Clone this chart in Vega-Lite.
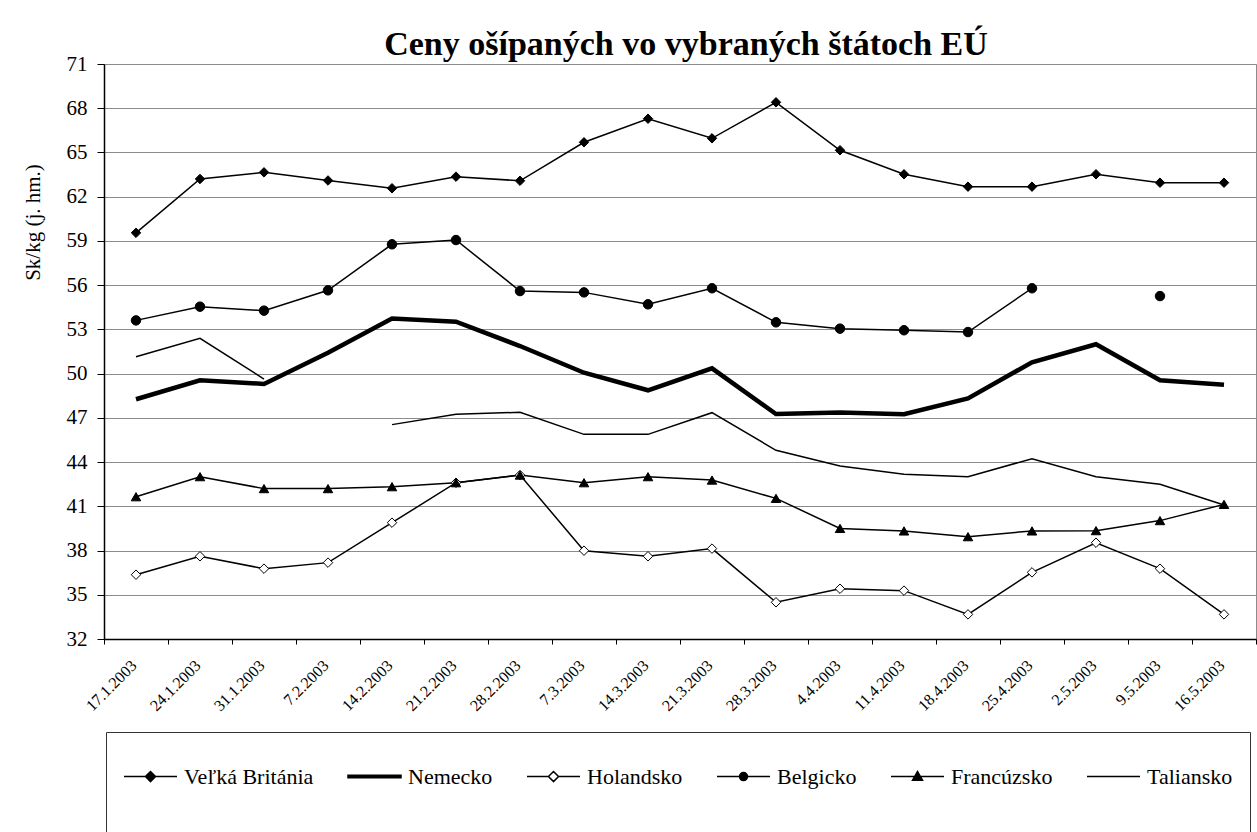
{
  "$schema": "https://vega.github.io/schema/vega-lite/v6.json",
  "width": 1152,
  "height": 575,
  "autosize": {"type": "none"},
  "padding": {"left": 104, "top": 64, "right": 1, "bottom": 193},
  "background": "white",
  "title": {"text": "Ceny ošípaných vo vybraných štátoch  EÚ", "font": "Liberation Serif", "fontSize": 34, "fontWeight": "bold", "color": "black", "anchor": "middle", "dx": 6, "dy": 44, "baseline": "alphabetic", "offset": 8},
  "config": {
    "font": "Liberation Serif",
    "view": {"stroke": "#8c8c8c", "strokeWidth": 1},
    "legend": {"labelFont": "Liberation Serif", "labelFontSize": 22, "labelColor": "black", "labelOffset": 6, "columnPadding": 31,
      "symbolSize": 2809, "symbolStrokeWidth": 1.5, "symbolOpacity": 1, "padding": 17, "strokeColor": "#333333", "fillColor": "white"}
  },
  "data": {"values": [
    {"date": "17.1.2003", "country": "Veľká Británia", "price": 59.55},
    {"date": "24.1.2003", "country": "Veľká Británia", "price": 63.2},
    {"date": "31.1.2003", "country": "Veľká Británia", "price": 63.65},
    {"date": "7.2.2003", "country": "Veľká Británia", "price": 63.1},
    {"date": "14.2.2003", "country": "Veľká Británia", "price": 62.57},
    {"date": "21.2.2003", "country": "Veľká Británia", "price": 63.36},
    {"date": "28.2.2003", "country": "Veľká Británia", "price": 63.08},
    {"date": "7.3.2003", "country": "Veľká Británia", "price": 65.69},
    {"date": "14.3.2003", "country": "Veľká Británia", "price": 67.29},
    {"date": "21.3.2003", "country": "Veľká Británia", "price": 65.96},
    {"date": "28.3.2003", "country": "Veľká Británia", "price": 68.4},
    {"date": "4.4.2003", "country": "Veľká Británia", "price": 65.15},
    {"date": "11.4.2003", "country": "Veľká Británia", "price": 63.52},
    {"date": "18.4.2003", "country": "Veľká Británia", "price": 62.68},
    {"date": "25.4.2003", "country": "Veľká Británia", "price": 62.68},
    {"date": "2.5.2003", "country": "Veľká Británia", "price": 63.52},
    {"date": "9.5.2003", "country": "Veľká Británia", "price": 62.95},
    {"date": "16.5.2003", "country": "Veľká Británia", "price": 62.95},
    {"date": "17.1.2003", "country": "Nemecko", "price": 48.26},
    {"date": "24.1.2003", "country": "Nemecko", "price": 49.55},
    {"date": "31.1.2003", "country": "Nemecko", "price": 49.3},
    {"date": "7.2.2003", "country": "Nemecko", "price": 51.42},
    {"date": "14.2.2003", "country": "Nemecko", "price": 53.73},
    {"date": "21.2.2003", "country": "Nemecko", "price": 53.52},
    {"date": "28.2.2003", "country": "Nemecko", "price": 51.87},
    {"date": "7.3.2003", "country": "Nemecko", "price": 50.06},
    {"date": "14.3.2003", "country": "Nemecko", "price": 48.87},
    {"date": "21.3.2003", "country": "Nemecko", "price": 50.36},
    {"date": "28.3.2003", "country": "Nemecko", "price": 47.26},
    {"date": "4.4.2003", "country": "Nemecko", "price": 47.37},
    {"date": "11.4.2003", "country": "Nemecko", "price": 47.24},
    {"date": "18.4.2003", "country": "Nemecko", "price": 48.32},
    {"date": "25.4.2003", "country": "Nemecko", "price": 50.77},
    {"date": "2.5.2003", "country": "Nemecko", "price": 51.99},
    {"date": "9.5.2003", "country": "Nemecko", "price": 49.55},
    {"date": "16.5.2003", "country": "Nemecko", "price": 49.25},
    {"date": "17.1.2003", "country": "Holandsko", "price": 36.36},
    {"date": "24.1.2003", "country": "Holandsko", "price": 37.61},
    {"date": "31.1.2003", "country": "Holandsko", "price": 36.77},
    {"date": "7.2.2003", "country": "Holandsko", "price": 37.18},
    {"date": "14.2.2003", "country": "Holandsko", "price": 39.89},
    {"date": "21.2.2003", "country": "Holandsko", "price": 42.6},
    {"date": "28.2.2003", "country": "Holandsko", "price": 43.12},
    {"date": "7.3.2003", "country": "Holandsko", "price": 37.99},
    {"date": "14.3.2003", "country": "Holandsko", "price": 37.61},
    {"date": "21.3.2003", "country": "Holandsko", "price": 38.13},
    {"date": "28.3.2003", "country": "Holandsko", "price": 34.49},
    {"date": "4.4.2003", "country": "Holandsko", "price": 35.41},
    {"date": "11.4.2003", "country": "Holandsko", "price": 35.28},
    {"date": "18.4.2003", "country": "Holandsko", "price": 33.67},
    {"date": "25.4.2003", "country": "Holandsko", "price": 36.52},
    {"date": "2.5.2003", "country": "Holandsko", "price": 38.53},
    {"date": "9.5.2003", "country": "Holandsko", "price": 36.77},
    {"date": "16.5.2003", "country": "Holandsko", "price": 33.67},
    {"date": "17.1.2003", "country": "Belgicko", "price": 53.61},
    {"date": "24.1.2003", "country": "Belgicko", "price": 54.54},
    {"date": "31.1.2003", "country": "Belgicko", "price": 54.27},
    {"date": "7.2.2003", "country": "Belgicko", "price": 55.65},
    {"date": "14.2.2003", "country": "Belgicko", "price": 58.77},
    {"date": "21.2.2003", "country": "Belgicko", "price": 59.06},
    {"date": "28.2.2003", "country": "Belgicko", "price": 55.6},
    {"date": "7.3.2003", "country": "Belgicko", "price": 55.51},
    {"date": "14.3.2003", "country": "Belgicko", "price": 54.7},
    {"date": "21.3.2003", "country": "Belgicko", "price": 55.79},
    {"date": "28.3.2003", "country": "Belgicko", "price": 53.48},
    {"date": "4.4.2003", "country": "Belgicko", "price": 53.05},
    {"date": "11.4.2003", "country": "Belgicko", "price": 52.94},
    {"date": "18.4.2003", "country": "Belgicko", "price": 52.82},
    {"date": "25.4.2003", "country": "Belgicko", "price": 55.79},
    {"date": "2.5.2003", "country": "Belgicko", "price": null},
    {"date": "9.5.2003", "country": "Belgicko", "price": 55.26},
    {"date": "16.5.2003", "country": "Belgicko", "price": null},
    {"date": "17.1.2003", "country": "Francúzsko", "price": 41.65},
    {"date": "24.1.2003", "country": "Francúzsko", "price": 43.01},
    {"date": "31.1.2003", "country": "Francúzsko", "price": 42.2},
    {"date": "7.2.2003", "country": "Francúzsko", "price": 42.2},
    {"date": "14.2.2003", "country": "Francúzsko", "price": 42.33},
    {"date": "21.2.2003", "country": "Francúzsko", "price": 42.6},
    {"date": "28.2.2003", "country": "Francúzsko", "price": 43.12},
    {"date": "7.3.2003", "country": "Francúzsko", "price": 42.6},
    {"date": "14.3.2003", "country": "Francúzsko", "price": 43.01},
    {"date": "21.3.2003", "country": "Francúzsko", "price": 42.78},
    {"date": "28.3.2003", "country": "Francúzsko", "price": 41.54},
    {"date": "4.4.2003", "country": "Francúzsko", "price": 39.5},
    {"date": "11.4.2003", "country": "Francúzsko", "price": 39.33},
    {"date": "18.4.2003", "country": "Francúzsko", "price": 38.94},
    {"date": "25.4.2003", "country": "Francúzsko", "price": 39.33},
    {"date": "2.5.2003", "country": "Francúzsko", "price": 39.35},
    {"date": "9.5.2003", "country": "Francúzsko", "price": 40.03},
    {"date": "16.5.2003", "country": "Francúzsko", "price": 41.13},
    {"date": "17.1.2003", "country": "Taliansko", "price": 51.15},
    {"date": "24.1.2003", "country": "Taliansko", "price": 52.39},
    {"date": "31.1.2003", "country": "Taliansko", "price": 49.63},
    {"date": "7.2.2003", "country": "Taliansko", "price": null},
    {"date": "14.2.2003", "country": "Taliansko", "price": 46.54},
    {"date": "21.2.2003", "country": "Taliansko", "price": 47.24},
    {"date": "28.2.2003", "country": "Taliansko", "price": 47.38},
    {"date": "7.3.2003", "country": "Taliansko", "price": 45.88},
    {"date": "14.3.2003", "country": "Taliansko", "price": 45.88},
    {"date": "21.3.2003", "country": "Taliansko", "price": 47.35},
    {"date": "28.3.2003", "country": "Taliansko", "price": 44.8},
    {"date": "4.4.2003", "country": "Taliansko", "price": 43.73},
    {"date": "11.4.2003", "country": "Taliansko", "price": 43.17},
    {"date": "18.4.2003", "country": "Taliansko", "price": 43.01},
    {"date": "25.4.2003", "country": "Taliansko", "price": 44.23},
    {"date": "2.5.2003", "country": "Taliansko", "price": 43.01},
    {"date": "9.5.2003", "country": "Taliansko", "price": 42.49},
    {"date": "16.5.2003", "country": "Taliansko", "price": 41.09}
  ]},
  "encoding": {
    "x": {"field": "date", "type": "ordinal", "sort": null,
      "scale": {"type": "band", "paddingInner": 0, "paddingOuter": 0},
      "axis": {"title": null, "tickBand": "extent", "labelAngle": -45, "labelAlign": "right", "labelBaseline": "top",
        "labelFont": "Liberation Serif", "labelFontSize": 16, "labelColor": "black", "labelPadding": 13, "labelOffset": -8,
        "labelOverlap": false, "tickSize": 5, "tickColor": "black", "domainColor": "black", "domainWidth": 1.5, "grid": false}},
    "y": {"field": "price", "type": "quantitative",
      "scale": {"domain": [32, 71], "nice": false, "zero": false},
      "axis": {"values": [32, 35, 38, 41, 44, 47, 50, 53, 56, 59, 62, 65, 68, 71],
        "title": "Sk/kg (j. hm.)", "titleFont": "Liberation Serif", "titleFontSize": 21, "titleFontWeight": "normal", "titleColor": "black",
        "titleAngle": -90, "titleX": -71, "titleY": 158, "titleAlign": "center", "titleBaseline": "middle",
        "labelFont": "Liberation Serif", "labelFontSize": 21, "labelColor": "black", "labelPadding": 10,
        "tickSize": 7, "tickColor": "black", "domainColor": "black", "domainWidth": 1.5,
        "grid": true, "gridColor": "#8c8c8c", "gridWidth": 1}},
    "detail": {"field": "country", "type": "nominal"}
  },
  "resolve": {"scale": {"shape": "independent", "fill": "independent", "stroke": "independent"}},
  "layer": [
    {"transform": [{"filter": "datum.country !== 'Nemecko'"}],
     "mark": {"type": "line", "color": "black", "strokeWidth": 1.5, "invalid": "break-paths-filter-domains"}},
    {"transform": [{"filter": "datum.country === 'Nemecko'"}],
     "mark": {"type": "line", "color": "black", "strokeWidth": 4.5, "invalid": "break-paths-filter-domains"}},
    {"transform": [{"filter": {"field": "country", "oneOf": ["Veľká Británia", "Holandsko", "Belgicko", "Francúzsko"]}}],
     "mark": {"type": "point", "filled": false, "stroke": "black", "opacity": 1, "strokeWidth": 1, "size": 90},
     "encoding": {
       "shape": {"field": "country", "type": "nominal", "scale": {"domain": ["Veľká Británia", "Holandsko", "Belgicko", "Francúzsko"], "range": ["diamond", "diamond", "circle", "triangle-up"]}, "legend": null},
       "fill": {"field": "country", "type": "nominal", "scale": {"domain": ["Veľká Británia", "Holandsko", "Belgicko", "Francúzsko"], "range": ["black", "white", "black", "black"]}, "legend": null}
     }},
    {"transform": [{"filter": "false"}],
     "mark": {"type": "point", "filled": true, "strokeWidth": 1.5, "opacity": 1},
     "encoding": {
       "shape": {"field": "country", "type": "nominal",
         "scale": {"domain": ["Veľká Británia", "Nemecko", "Holandsko", "Belgicko", "Francúzsko", "Taliansko"],
           "range": [
             "M0,-1.45M0,1.6M-1,0L-0.19,0M0.19,0L1,0M0,-0.19L0.19,0L0,0.19L-0.19,0Z",
             "M0,-1.45M0,1.6M-1,-0.05L1,-0.05L1,0.05L-1,0.05Z",
             "M0,-1.45M0,1.6M-1,0L-0.19,0M0.19,0L1,0M0,-0.19L0.19,0L0,0.19L-0.19,0Z",
             "M0,-1.45M0,1.6M-1,0L-0.15,0M0.15,0L1,0M-0.15,0A0.15,0.15,0,1,1,0.15,0A0.15,0.15,0,1,1,-0.15,0Z",
             "M0,-1.45M0,1.6M-1,0L1,0M-0.19,0.14L0,-0.19L0.19,0.14Z",
             "M0,-1.45M0,1.6M-1,0L1,0"
           ]},
         "legend": {"orient": "none", "legendX": 2, "legendY": 668, "direction": "horizontal", "title": null,
           "padding": 17, "strokeColor": "#333333", "fillColor": "white",
           "labelFont": "Liberation Serif", "labelFontSize": 22, "labelColor": "black", "labelOffset": 6,
           "columnPadding": 31, "symbolSize": 2809, "symbolStrokeWidth": 1.5, "symbolOpacity": 1}},
       "fill": {"field": "country", "type": "nominal",
         "scale": {"domain": ["Veľká Británia", "Nemecko", "Holandsko", "Belgicko", "Francúzsko", "Taliansko"],
           "range": ["black", "black", "white", "black", "black", "black"]},
         "legend": {"title": null, "orient": "none", "legendX": 2, "legendY": 668, "direction": "horizontal", "labelFont": "Liberation Serif", "labelFontSize": 22}},
       "stroke": {"field": "country", "type": "nominal",
         "scale": {"domain": ["Veľká Británia", "Nemecko", "Holandsko", "Belgicko", "Francúzsko", "Taliansko"],
           "range": ["black", "black", "black", "black", "black", "black"]},
         "legend": {"title": null, "orient": "none", "legendX": 2, "legendY": 668, "direction": "horizontal", "labelFont": "Liberation Serif", "labelFontSize": 22}}
     }}
  ]
}
